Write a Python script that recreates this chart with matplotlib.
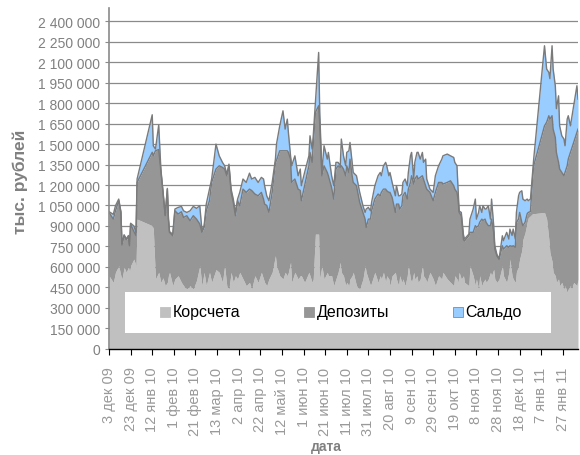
import matplotlib
matplotlib.use("Agg")
import matplotlib.pyplot as plt
from matplotlib.patches import Rectangle
import numpy as np
import pandas as pd

# Daily balances, thousands of тыс. рублей (values * 1000 on the axis)
dates = [
    '2009-12-03', '2009-12-07', '2009-12-09', '2009-12-12', '2009-12-14', '2009-12-15', '2009-12-17', '2009-12-19', '2009-12-21', '2009-12-22',
    '2009-12-23', '2009-12-26', '2009-12-28', '2009-12-29', '2010-01-12', '2010-01-13', '2010-01-15', '2010-01-18', '2010-01-20', '2010-01-22',
    '2010-01-24', '2010-01-26', '2010-01-27', '2010-01-28', '2010-01-31', '2010-02-02', '2010-02-05', '2010-02-08', '2010-02-10', '2010-02-13',
    '2010-02-16', '2010-02-19', '2010-02-22', '2010-02-25', '2010-02-27', '2010-03-01', '2010-03-03', '2010-03-06', '2010-03-08', '2010-03-12',
    '2010-03-15', '2010-03-18', '2010-03-20', '2010-03-22', '2010-03-24', '2010-03-26', '2010-03-28', '2010-03-30', '2010-04-01', '2010-04-03',
    '2010-04-06', '2010-04-09', '2010-04-12', '2010-04-14', '2010-04-17', '2010-04-20', '2010-04-23', '2010-04-25', '2010-04-26', '2010-04-28',
    '2010-04-30', '2010-05-03', '2010-05-06', '2010-05-07', '2010-05-10', '2010-05-13', '2010-05-15', '2010-05-17', '2010-05-18', '2010-05-20',
    '2010-05-21', '2010-05-24', '2010-05-27', '2010-05-29', '2010-05-30', '2010-06-02', '2010-06-06', '2010-06-07', '2010-06-09', '2010-06-10',
    '2010-06-12', '2010-06-15', '2010-06-16', '2010-06-18', '2010-06-20', '2010-06-23', '2010-06-24', '2010-06-27', '2010-06-29', '2010-07-01',
    '2010-07-03', '2010-07-05', '2010-07-06', '2010-07-08', '2010-07-10', '2010-07-11', '2010-07-13', '2010-07-14', '2010-07-16', '2010-07-17',
    '2010-07-20', '2010-07-23', '2010-07-26', '2010-07-28', '2010-07-29', '2010-07-31', '2010-08-02', '2010-08-03', '2010-08-06', '2010-08-09',
    '2010-08-11', '2010-08-12', '2010-08-14', '2010-08-16', '2010-08-17', '2010-08-19', '2010-08-20', '2010-08-22', '2010-08-25', '2010-08-26',
    '2010-08-28', '2010-08-29', '2010-08-31', '2010-09-01', '2010-09-03', '2010-09-05', '2010-09-06', '2010-09-08', '2010-09-09', '2010-09-11',
    '2010-09-12', '2010-09-14', '2010-09-15', '2010-09-17', '2010-09-19', '2010-09-20', '2010-09-22', '2010-09-23', '2010-09-26', '2010-09-29',
    '2010-10-01', '2010-10-04', '2010-10-07', '2010-10-08', '2010-10-12', '2010-10-15', '2010-10-18', '2010-10-19', '2010-10-21', '2010-10-22',
    '2010-10-23', '2010-10-25', '2010-10-27', '2010-10-28', '2010-11-01', '2010-11-02', '2010-11-05', '2010-11-07', '2010-11-08', '2010-11-10',
    '2010-11-11', '2010-11-13', '2010-11-14', '2010-11-16', '2010-11-17', '2010-11-19', '2010-11-21', '2010-11-22', '2010-11-24', '2010-11-25',
    '2010-11-27', '2010-11-29', '2010-12-02', '2010-12-03', '2010-12-06', '2010-12-08', '2010-12-09', '2010-12-11', '2010-12-12', '2010-12-14',
    '2010-12-15', '2010-12-17', '2010-12-18', '2010-12-20', '2010-12-21', '2010-12-23', '2010-12-25', '2010-12-26', '2010-12-28', '2010-12-30',
    '2010-12-31', '2011-01-10', '2011-01-12', '2011-01-14', '2011-01-15', '2011-01-17', '2011-01-18', '2011-01-20', '2011-01-21', '2011-01-23',
    '2011-01-24', '2011-01-26', '2011-01-28', '2011-01-29', '2011-01-31', '2011-02-01', '2011-02-03', '2011-02-04', '2011-02-06', '2011-02-09',
    '2011-02-10',
]

korschet = [
    535, 486, 560, 608, 535, 511, 596, 560, 600, 560,
    608, 657, 608, 950, 902, 880, 511, 560, 486, 520,
    462, 486, 535, 560, 462, 511, 535, 486, 462, 438,
    462, 438, 500, 608, 462, 560, 462, 560, 486, 580,
    560, 486, 608, 462, 438, 560, 486, 535, 511, 560,
    511, 462, 486, 438, 535, 486, 560, 511, 486, 462,
    511, 560, 682, 608, 535, 511, 560, 535, 560, 633,
    486, 560, 511, 535, 535, 486, 560, 535, 486, 511,
    840, 840, 511, 608, 511, 560, 535, 535, 462, 511,
    560, 633, 560, 535, 462, 486, 462, 511, 535, 560,
    462, 438, 511, 608, 560, 511, 462, 486, 560, 486,
    535, 511, 560, 486, 535, 511, 462, 535, 560, 511,
    462, 535, 486, 511, 462, 535, 608, 511, 486, 560,
    511, 535, 486, 511, 608, 535, 511, 486, 560, 511,
    462, 535, 511, 560, 511, 486, 462, 535, 511, 486,
    560, 511, 535, 486, 462, 608, 535, 462, 511, 438,
    535, 462, 486, 511, 486, 511, 560, 535, 582, 511,
    486, 511, 608, 535, 486, 560, 657, 535, 511, 486,
    562, 608, 657, 720, 800, 850, 930, 960, 975, 990,
    990, 999, 950, 804, 706, 640, 560, 535, 486, 511,
    462, 486, 438, 462, 413, 438, 462, 438, 486, 462,
    511,
]

depozity = [
    464, 464, 451, 477, 465, 249, 234, 240, 220, 195,
    306, 203, 222, 269, 538, 535, 940, 900, 819, 626,
    513, 684, 415, 293, 366, 500, 452, 518, 500, 537,
    476, 537, 450, 306, 391, 329, 549, 525, 733, 737,
    781, 843, 709, 806, 903, 586, 587, 440, 574, 488,
    659, 684, 684, 722, 599, 635, 586, 586, 574, 588,
    489, 586, 684, 772, 916, 940, 891, 916, 880, 757,
    733, 684, 659, 625, 550, 709, 781, 904, 880, 989,
    892, 941, 1139, 660, 830, 732, 733, 647, 635, 806,
    781, 696, 781, 782, 806, 855, 830, 879, 733, 659,
    733, 635, 488, 342, 329, 439, 488, 525, 537, 648,
    586, 635, 610, 684, 623, 635, 684, 574, 439, 549,
    598, 489, 562, 610, 684, 562, 562, 708, 782, 647,
    733, 733, 758, 745, 660, 709, 684, 684, 586, 574,
    684, 684, 708, 647, 708, 745, 733, 635, 635, 611,
    439, 464, 265, 304, 366, 245, 318, 440, 379, 464,
    391, 488, 454, 439, 440, 391, 342, 415, 271, 220,
    194, 144, 147, 195, 269, 183, 98, 215, 244, 257,
    364, 342, 342, 206, 102, 76, 60, 39, 30, 260,
    351, 635, 710, 904, 977, 1068, 1050, 1014, 953, 855,
    855, 806, 830, 830, 928, 952, 977, 1026, 1026, 1124,
    1099,
]

saldo = [
    6, 35, 37, 12, 5, 10, 5, 5, 10, 5,
    6, 40, 23, 25, 275, 73, 13, 180, 12, 4,
    5, 5, 5, 5, 12, 13, 49, 39, 49, 24,
    73, 68, 79, 134, 17, 11, 49, 85, 25, 183,
    73, 37, 24, 12, 12, 24, 24, 24, 12, 98,
    74, 73, 117, 84, 122, 98, 110, 147, 135, 70,
    85, 73, 24, 120, 183, 293, 159, 232, 146, 24,
    122, 170, 98, 157, 110, 97, 73, 122, 98, 60,
    73, 391, 90, 24, 147, 98, 171, 86, 98, 49,
    25, 12, 196, 97, 73, 98, 159, 122, 98, 73,
    73, 73, 49, 49, 135, 86, 61, 62, 98, 134,
    171, 122, 171, 196, 183, 122, 146, 110, 122, 135,
    61, 97, 86, 98, 98, 98, 122, 196, 171, 37,
    122, 171, 196, 134, 171, 122, 195, 74, 24, 61,
    122, 122, 171, 207, 208, 183, 207, 196, 195, 73,
    11, 24, 35, 14, 12, 97, 171, 195, 60, 97,
    122, 49, 108, 74, 98, 146, 48, 147, 49, 24,
    10, 5, 73, 62, 98, 61, 122, 80, 122, 61,
    73, 171, 147, 232, 195, 159, 107, 86, 92, 42,
    49, 587, 390, 318, 297, 513, 440, 379, 321, 488,
    317, 269, 269, 196, 342, 318, 195, 219, 269, 342,
    220,
]

series_names = ['Корсчета', 'Депозиты', 'Сальдо']
series_colors = ['#C0C0C0', '#969696', '#99CCFF']

tick_labels = ['3 дек 09', '23 дек 09', '12 янв 10', '1 фев 10', '21 фев 10', '13 мар 10',
               '2 апр 10', '22 апр 10', '12 май 10', '1 июн 10', '21 июн 10', '11 июл 10',
               '31 июл 10', '20 авг 10', '9 сен 10', '29 сен 10', '19 окт 10', '8 ноя 10',
               '28 ноя 10', '18 дек 10', '7 янв 11', '27 янв 11']

plt.rcParams['font.family'] = ['Liberation Sans', 'DejaVu Sans']

x = pd.to_datetime(dates)
k = np.array(korschet, dtype=float) * 1000
d = np.array(depozity, dtype=float) * 1000
s = np.array(saldo, dtype=float) * 1000
top1 = k
top2 = k + d
top3 = top2 + s

fig = plt.figure(figsize=(5.8, 4.56), dpi=100)
W, H = 580.0, 456.0
ax_left, ax_right, ax_top, ax_bottom = 109, 578, 8.7, 349.7
ax = fig.add_axes([ax_left / W, 1 - ax_bottom / H,
                   (ax_right - ax_left) / W, (ax_bottom - ax_top) / H])

ax.fill_between(x, 0, top1, color=series_colors[0], linewidth=0, zorder=2)
ax.fill_between(x, top1, top2, color=series_colors[1], linewidth=0, zorder=2)
ax.fill_between(x, top2, top3, color=series_colors[2], linewidth=0, zorder=2)
ax.plot(x, top2, color='#7a7a7a', linewidth=1.0, zorder=3)
ax.plot(x, top3, color='#7a7a7a', linewidth=1.0, zorder=3)

ax.set_xlim(x[0], x[-1])
ax.set_ylim(0, 2500000)
yticks = np.arange(0, 2400001, 150000)
ax.set_yticks(yticks)
ax.set_yticklabels([f'{int(v):,}'.replace(',', ' ') for v in yticks])
ax.yaxis.grid(True, color='#8a8a8a', linewidth=0.9, zorder=0)
ax.set_axisbelow(True)

tick_pos = pd.date_range(x[0], periods=len(tick_labels), freq='20D')
ax.set_xticks(tick_pos)
ax.set_xticklabels(tick_labels, rotation=90, ha='center', va='top',
                   family=['Liberation Sans Narrow', 'Liberation Sans'])

for side in ('top', 'right'):
    ax.spines[side].set_visible(False)
ax.spines['left'].set_color('#8a8a8a')
ax.spines['left'].set_linewidth(1.2)
ax.spines['bottom'].set_color('#000000')
ax.spines['bottom'].set_linewidth(1.0)
ax.spines['left'].set_zorder(4)
ax.spines['bottom'].set_zorder(4)

ax.tick_params(axis='y', direction='out', length=3, width=0.8, color='#8a8a8a',
               labelsize=10, labelcolor='#808080', pad=3.5)
ax.tick_params(axis='x', direction='out', length=4.3, width=0.8, color='#000000',
               labelsize=10.5, labelcolor='#999999', pad=8.5)

# legend panel drawn inside the plot area
def px2ax(px, py):
    return ((px - ax_left) / (ax_right - ax_left), (ax_bottom - py) / (ax_bottom - ax_top))

bx0, by0 = px2ax(125, 334)
bx1, by1 = px2ax(550.5, 293.3)
ax.add_patch(Rectangle((bx0, by0), bx1 - bx0, by1 - by0, transform=ax.transAxes,
                       facecolor='white', edgecolor='none', zorder=5))
entry_x = [159.5, 303.5, 452.5]
for name, col, ex in zip(series_names, series_colors, entry_x):
    sx0, sy0 = px2ax(ex, 318)
    sx1, sy1 = px2ax(ex + 10.5, 307.5)
    ax.add_patch(Rectangle((sx0, sy0), sx1 - sx0, sy1 - sy0, transform=ax.transAxes,
                           facecolor=col, edgecolor='#8a8a8a' if col == '#99CCFF' else col,
                           linewidth=0.6, zorder=6))
    tx, ty = px2ax(ex + 13, 312.7)
    ax.text(tx, ty, name, transform=ax.transAxes, fontsize=11.5, color='black',
            ha='left', va='center', zorder=7)

fig.text(20 / W, 1 - 182 / H, 'тыс. рублей', rotation=90, ha='center', va='center',
         fontsize=12.5, fontweight='bold', color='#808080')
fig.text(326 / W, 1 - 447 / H, 'дата', ha='center', va='center',
         fontsize=10, fontweight='bold', color='#808080')

fig.savefig('out.png', dpi=100)
